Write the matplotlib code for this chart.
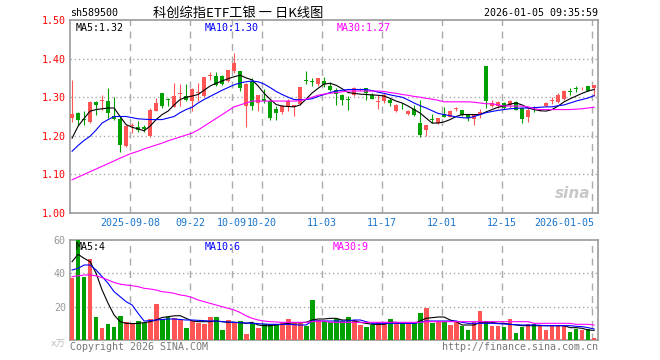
import numpy as np
import matplotlib
matplotlib.use("Agg")
import matplotlib.pyplot as plt
import matplotlib.transforms as mtrans

plt.rcParams['font.family'] = ['DejaVu Sans Mono', 'Noto Sans CJK SC']

# ---- data (88 trading days, 2025-08-25 .. 2026-01-05) ----
opens = [1.246, 1.259, 1.243, 1.236, 1.288, 1.291, 1.289, 1.252, 1.244, 1.174,
         1.225, 1.223, 1.222, 1.199, 1.265, 1.310, 1.295, 1.275, 1.309, 1.304,
         1.290, 1.312, 1.303, 1.355, 1.356, 1.355, 1.343, 1.367, 1.367, 1.277,
         1.342, 1.285, 1.296, 1.290, 1.270, 1.262, 1.277, 1.275, 1.283, 1.344,
         1.341, 1.333, 1.343, 1.329, 1.318, 1.305, 1.295, 1.305, 1.318, 1.323,
         1.305, 1.288, 1.290, 1.294, 1.264, 1.278, 1.257, 1.270, 1.233, 1.216,
         1.243, 1.233, 1.257, 1.250, 1.269, 1.266, 1.255, 1.244, 1.253, 1.382,
         1.277, 1.277, 1.286, 1.281, 1.288, 1.272, 1.248, 1.273, 1.266, 1.278,
         1.290, 1.288, 1.296, 1.316, 1.323, 1.320, 1.328, 1.324]
highs = [1.345, 1.262, 1.265, 1.289, 1.289, 1.305, 1.324, 1.300, 1.251, 1.228,
         1.233, 1.238, 1.229, 1.272, 1.297, 1.311, 1.297, 1.338, 1.335, 1.335,
         1.325, 1.338, 1.352, 1.366, 1.366, 1.357, 1.371, 1.414, 1.368, 1.336,
         1.350, 1.305, 1.320, 1.292, 1.277, 1.280, 1.296, 1.280, 1.326, 1.368,
         1.350, 1.350, 1.352, 1.340, 1.324, 1.307, 1.302, 1.326, 1.323, 1.325,
         1.311, 1.305, 1.311, 1.298, 1.283, 1.286, 1.268, 1.280, 1.294, 1.227,
         1.256, 1.246, 1.275, 1.266, 1.275, 1.268, 1.256, 1.255, 1.269, 1.382,
         1.294, 1.290, 1.288, 1.294, 1.289, 1.273, 1.271, 1.277, 1.270, 1.287,
         1.300, 1.311, 1.319, 1.325, 1.328, 1.326, 1.329, 1.331]
lows = [1.237, 1.227, 1.227, 1.234, 1.253, 1.268, 1.245, 1.240, 1.157, 1.172,
        1.207, 1.209, 1.209, 1.197, 1.263, 1.272, 1.278, 1.275, 1.278, 1.290,
        1.264, 1.290, 1.301, 1.344, 1.330, 1.332, 1.340, 1.362, 1.315, 1.222,
        1.267, 1.265, 1.285, 1.240, 1.240, 1.256, 1.265, 1.251, 1.281, 1.333,
        1.328, 1.329, 1.326, 1.315, 1.280, 1.280, 1.268, 1.303, 1.315, 1.293,
        1.296, 1.270, 1.286, 1.276, 1.262, 1.269, 1.255, 1.251, 1.198, 1.200,
        1.232, 1.231, 1.248, 1.248, 1.263, 1.251, 1.238, 1.228, 1.246, 1.272,
        1.275, 1.272, 1.270, 1.272, 1.266, 1.233, 1.237, 1.262, 1.264, 1.277,
        1.282, 1.286, 1.294, 1.306, 1.313, 1.318, 1.316, 1.303]
closes = [1.257, 1.242, 1.241, 1.288, 1.281, 1.293, 1.260, 1.244, 1.177, 1.226,
          1.227, 1.216, 1.217, 1.268, 1.284, 1.277, 1.293, 1.304, 1.311, 1.294,
          1.320, 1.314, 1.352, 1.357, 1.332, 1.335, 1.371, 1.388, 1.324, 1.335,
          1.277, 1.305, 1.290, 1.246, 1.259, 1.276, 1.290, 1.280, 1.326, 1.342,
          1.339, 1.350, 1.333, 1.318, 1.309, 1.293, 1.293, 1.324, 1.321, 1.310,
          1.296, 1.291, 1.305, 1.285, 1.281, 1.276, 1.265, 1.253, 1.202, 1.227,
          1.241, 1.246, 1.250, 1.265, 1.271, 1.255, 1.246, 1.253, 1.262, 1.290,
          1.284, 1.288, 1.272, 1.291, 1.268, 1.244, 1.268, 1.271, 1.268, 1.285,
          1.292, 1.305, 1.317, 1.314, 1.321, 1.322, 1.317, 1.331]

ma5 = [1.194, 1.225, 1.245, 1.264, 1.268, 1.270, 1.272, 1.272, 1.250, 1.229,
       1.222, 1.218, 1.213, 1.225, 1.242, 1.255, 1.264, 1.280, 1.294, 1.300,
       1.303, 1.307, 1.318, 1.329, 1.336, 1.342, 1.348, 1.353, 1.357, 1.350,
       1.345, 1.329, 1.310, 1.295, 1.281, 1.277, 1.276, 1.275, 1.280, 1.295,
       1.311, 1.323, 1.334, 1.336, 1.331, 1.322, 1.312, 1.310, 1.308, 1.307,
       1.306, 1.305, 1.303, 1.297, 1.290, 1.285, 1.277, 1.268, 1.259, 1.246,
       1.233, 1.233, 1.236, 1.242, 1.250, 1.255, 1.255, 1.255, 1.255, 1.262,
       1.268, 1.274, 1.277, 1.282, 1.285, 1.280, 1.272, 1.268, 1.265, 1.264,
       1.268, 1.277, 1.288, 1.296, 1.303, 1.310, 1.316, 1.320]
ma10 = [1.160, 1.175, 1.188, 1.199, 1.215, 1.233, 1.242, 1.250, 1.250, 1.250,
        1.247, 1.244, 1.243, 1.242, 1.242, 1.242, 1.246, 1.250, 1.260, 1.268,
        1.274, 1.285, 1.294, 1.302, 1.310, 1.318, 1.325, 1.332, 1.337, 1.340,
        1.342, 1.340, 1.334, 1.325, 1.315, 1.307, 1.300, 1.294, 1.293, 1.294,
        1.296, 1.302, 1.307, 1.312, 1.316, 1.318, 1.320, 1.320, 1.320, 1.320,
        1.317, 1.313, 1.310, 1.306, 1.303, 1.300, 1.293, 1.285, 1.278, 1.272,
        1.265, 1.258, 1.255, 1.252, 1.249, 1.247, 1.246, 1.250, 1.255, 1.260,
        1.263, 1.266, 1.268, 1.270, 1.271, 1.272, 1.272, 1.273, 1.274, 1.275,
        1.275, 1.278, 1.280, 1.285, 1.290, 1.294, 1.298, 1.304]
ma30 = [1.086, 1.093, 1.100, 1.107, 1.114, 1.121, 1.128, 1.135, 1.142, 1.149,
        1.155, 1.160, 1.166, 1.171, 1.176, 1.181, 1.187, 1.192, 1.197, 1.202,
        1.207, 1.215, 1.225, 1.235, 1.245, 1.255, 1.265, 1.275, 1.280, 1.285,
        1.290, 1.290, 1.290, 1.290, 1.290, 1.290, 1.290, 1.290, 1.291, 1.295,
        1.300, 1.305, 1.308, 1.310, 1.312, 1.314, 1.316, 1.316, 1.316, 1.316,
        1.316, 1.316, 1.315, 1.312, 1.310, 1.307, 1.305, 1.302, 1.300, 1.297,
        1.295, 1.292, 1.288, 1.288, 1.288, 1.288, 1.288, 1.287, 1.285, 1.283,
        1.283, 1.280, 1.277, 1.277, 1.277, 1.277, 1.275, 1.270, 1.268, 1.268,
        1.268, 1.268, 1.268, 1.268, 1.269, 1.270, 1.272, 1.274]

volumes = [37.4, 60, 38, 48.4, 14, 7.4, 9.4, 8, 14.6, 11,
           10, 11.4, 10, 12.6, 21.6, 12.6, 14, 13, 12, 7.4,
           11.4, 10, 9.4, 14, 14, 6, 12, 10.6, 11.4, 3.6,
           10.4, 7.4, 9.4, 9.4, 9.4, 10.6, 12.6, 10.6, 10.6, 8.6,
           24, 12, 11.4, 10.6, 12.6, 11.4, 14, 12, 9, 8,
           9, 10.6, 10.6, 12.6, 10.6, 10.6, 10, 10, 16.4, 19.4,
           10.4, 11.4, 10.6, 9, 10.6, 8.6, 6, 10.6, 17.4, 11.4,
           8.6, 8.6, 8, 12.6, 4.4, 8, 9.4, 9.4, 8.6, 6,
           8.6, 8.6, 8.6, 5, 6.6, 6, 6.6, 1.4]
vma5 = [47, 51.4, 49, 47, 40, 30, 22, 15, 11, 10,
        9.8, 10, 10.4, 11, 12, 13.5, 14, 14.5, 14.6, 13,
        11.5, 11, 11, 11, 11.4, 11, 10.6, 10.6, 10.4, 10,
        10.6, 9, 8.6, 8.6, 9, 9.4, 10, 10.4, 10.4, 10.6,
        12, 12.6, 12.6, 13, 13, 12, 12, 11.4, 10.6, 10,
        9.4, 9.4, 9.4, 10.6, 10.6, 10, 10, 10, 11.4, 13,
        13.4, 13.8, 13.8, 12, 11, 9, 9, 9, 10.6, 10.6,
        10.6, 10, 10, 9.4, 9, 8.6, 8.6, 8.6, 8.6, 8.6,
        8.6, 8.6, 8.6, 7.4, 7.4, 7, 6, 5.8]
vma10 = [42, 43, 45, 45, 42, 38, 34, 29, 26, 23,
         21, 16, 11.4, 11.6, 12, 12.3, 12.6, 12.6, 12.3, 12,
         12, 11.8, 11.6, 11.4, 11.4, 11, 10.8, 10.6, 10.4, 10.2,
         10, 9.8, 9.6, 9.4, 9.4, 9.4, 9.4, 9.2, 9, 9,
         11.4, 11.4, 11.4, 11.4, 11.4, 11.4, 11.4, 12, 12, 11,
         10, 10, 10, 10, 10, 10, 10, 10, 10.6, 11.4,
         11.4, 11.4, 11.4, 11.4, 11.4, 10.6, 10, 10, 10, 10,
         10, 9.8, 9.6, 9.4, 9.2, 9, 9, 9, 8.8, 8.6,
         8.6, 8.6, 8.6, 8.6, 8.2, 8, 7.4, 6.6]
vma30 = [38, 38.5, 39, 39, 38.5, 37.4, 36, 34.5, 33.5, 33,
         32.6, 32, 31, 30.6, 30, 29, 28.6, 28, 27, 26.5,
         25.5, 24, 23, 22, 21, 20, 19, 18, 16.5, 14.5,
         13, 12, 11.4, 11, 10.8, 10.6, 10.6, 10.6, 10.6, 10.6,
         11, 11.2, 11.4, 10.6, 10.6, 10.6, 10.6, 10.6, 10.6, 10.6,
         10.6, 10.6, 10.6, 10.6, 10.6, 10.6, 10.6, 10.6, 10.6, 11,
         11, 11, 11, 11, 11, 11, 11, 11, 11, 11,
         11, 11, 11, 11, 11, 11, 11, 10, 10, 10,
         10, 10, 10, 10, 9.4, 9.4, 9.4, 9]

date_idx = [10, 20, 27, 32, 42, 52, 62, 72, 87]
date_labels = ['2025-09-08', '09-22', '10-09', '10-20', '11-03',
               '11-17', '12-01', '12-15', '2026-01-05']
price_ticks = [1.00, 1.10, 1.20, 1.30, 1.40, 1.50]
vol_ticks = [20, 40, 60]

RED = '#ff5555'
GREEN = '#00a000'
GRID = '#aaaaaa'
FS = 7.2
LW = 0.8

x = np.arange(len(closes))
o = np.array(opens); c = np.array(closes)
h = np.array(highs); l = np.array(lows)
up = c >= o
colors = np.where(up, RED, GREEN)

W, H = 660, 360
fig = plt.figure(figsize=(6.6, 3.6), dpi=100)
ax = fig.add_axes([70 / W, 1 - 213 / H, 528 / W, 193 / H])
axv = fig.add_axes([70 / W, 1 - 340 / H, 528 / W, 100 / H])

xlim = (-0.35, len(closes) - 0.35)

# price panel
ax.vlines(x, l, h, colors=colors, linewidth=LW, zorder=3)
body = np.maximum(np.abs(c - o), 0.0015)
ax.bar(x, body, bottom=np.minimum(o, c), width=0.75, color=colors, linewidth=0, zorder=4)
ax.plot(x, ma5, color='black', lw=LW, zorder=5)
ax.plot(x, ma10, color='#0000ff', lw=LW, zorder=5)
ax.plot(x, ma30, color='#ff00ff', lw=LW, zorder=5)
ax.set_ylim(1.0, 1.5)

# volume panel
axv.bar(x, volumes, width=0.8, color=colors, linewidth=0, zorder=3)
axv.plot(x, vma5, color='black', lw=LW, zorder=4)
axv.plot(x, vma10, color='#0000ff', lw=LW, zorder=4)
axv.plot(x, vma30, color='#ff00ff', lw=LW, zorder=4)
axv.set_ylim(0, 60)

for a in (ax, axv):
    a.set_xlim(*xlim)
    for s in a.spines.values():
        s.set_color('#999999')
        s.set_linewidth(1.2)
    for xi in date_idx:
        a.axvline(xi - 0.35, color=GRID, lw=1, ls=(0, (5, 4)), zorder=1)
    a.tick_params(length=0)
    a.set_xticks([])

for p in price_ticks[1:-1]:
    ax.axhline(p, color=GRID, lw=1, ls=(0, (1, 2)), zorder=1)
for v in vol_ticks[:-1]:
    axv.axhline(v, color=GRID, lw=1, ls=(0, (1, 2)), zorder=1)

ax.set_yticks(price_ticks)
ax.set_yticklabels(['%.2f' % p for p in price_ticks], color='red', fontsize=FS)
ax.tick_params(axis='y', pad=3)
axv.set_yticks(vol_ticks)
axv.set_yticklabels([str(v) for v in vol_ticks], color='#999999', fontsize=FS)
axv.tick_params(axis='y', pad=3)
fig.text(66 / W, 1 - 343 / H, 'x万', color='#bbbbbb', fontsize=FS - 0.5,
         ha='right', va='center', family=['DejaVu Sans Mono', 'Noto Sans CJK SC'])

# date labels under price panel
trans = mtrans.blended_transform_factory(ax.transData, ax.transAxes)
for xi, lab in zip(date_idx, date_labels):
    ha = 'right' if lab == date_labels[-1] else 'center'
    xx = xi + 0.1 if ha == 'right' else xi - 0.35
    ax.text(xx, -0.025, lab, transform=trans, ha=ha, va='top',
            color='#1874cd', fontsize=FS)

# legends
ax.text(0.01, 0.985, 'MA5:1.32', transform=ax.transAxes, fontsize=FS, va='top', color='black')
ax.text(0.255, 0.985, 'MA10:1.30', transform=ax.transAxes, fontsize=FS, va='top', color='#0000ff')
ax.text(0.505, 0.985, 'MA30:1.27', transform=ax.transAxes, fontsize=FS, va='top', color='#ff00ff')
axv.text(0.01, 0.985, 'MA5:4', transform=axv.transAxes, fontsize=FS, va='top', color='black')
axv.text(0.255, 0.985, 'MA10:6', transform=axv.transAxes, fontsize=FS, va='top', color='#0000ff')
axv.text(0.498, 0.985, 'MA30:9', transform=axv.transAxes, fontsize=FS, va='top', color='#ff00ff')

# header
fig.text(70 / W, 1 - 13 / H, 'sh589500', fontsize=FS, va='center', color='black')
fig.text(238 / W, 1 - 13 / H, '科创综指ETF工银 一 日K线图', fontsize=9.5, va='center', ha='center',
         family=['Noto Sans CJK SC', 'DejaVu Sans'], color='black')
fig.text(598 / W, 1 - 13 / H, '2026-01-05 09:35:59', fontsize=FS, va='center', ha='right', color='black')

# footer
fig.text(70 / W, 1 - 347 / H, 'Copyright 2026 SINA.COM', fontsize=FS, va='center', color='#777777')
fig.text(598 / W, 1 - 347 / H, 'http://finance.sina.com.cn', fontsize=FS, va='center', ha='right', color='#777777')

# watermark
ax.text(0.985, 0.1, 'sina', transform=ax.transAxes, fontsize=11, ha='right', va='center',
        color='#bbbbbb', style='italic', fontweight='bold', family='DejaVu Sans', alpha=0.8, zorder=2)

fig.savefig('out.png', dpi=100)
